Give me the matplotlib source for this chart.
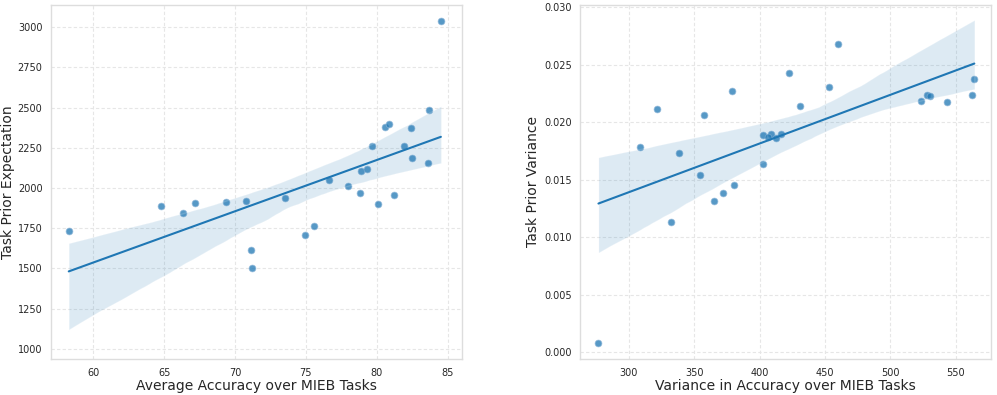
import numpy as np
import matplotlib
matplotlib.use("Agg")
import matplotlib.pyplot as plt
import seaborn as sns

# ---------------------------------------------------------
# data
# ---------------------------------------------------------

avg_accuracy = [
    84.53, 83.69, 80.56, 80.87, 82.44, 79.65, 81.93, 82.46, 83.59,
    78.90, 79.32, 76.60, 77.96, 78.85, 81.20, 73.55, 80.12, 70.75,
    69.35, 67.18, 64.79, 66.34, 58.27, 75.61, 74.96, 71.11, 71.18,
]
prior_expectation = [
    3037, 2488, 2378, 2401, 2374, 2260, 2260, 2185, 2157,
    2103, 2117, 2053, 2010, 1966, 1958, 1939, 1900, 1918,
    1912, 1908, 1890, 1842, 1732, 1763, 1711, 1612, 1504,
]

var_accuracy = [
    460.0, 422.8, 379.0, 452.8, 321.5, 430.8, 357.5, 564.1, 562.3,
    523.6, 527.7, 530.5, 543.1, 309.0, 338.2, 402.8, 408.8, 406.2,
    412.8, 416.2, 402.8, 354.3, 380.8, 371.8, 365.1, 332.3, 276.9,
]
prior_variance = [
    0.02677, 0.02427, 0.02267, 0.02305, 0.02110, 0.02139, 0.02061, 0.02372, 0.02235,
    0.02186, 0.02238, 0.02227, 0.02177, 0.01788, 0.01732, 0.01889, 0.01901, 0.01872,
    0.01866, 0.01898, 0.01633, 0.01543, 0.01450, 0.01383, 0.01311, 0.01134, 0.00081,
]

# ---------------------------------------------------------
# style
# ---------------------------------------------------------

sns.set_style("whitegrid", {
    "grid.linestyle": (0, (3, 2)),
    "grid.color": "#e6e6e6",
    "axes.edgecolor": "#dddddd",
})
plt.rcParams["font.family"] = ["DejaVu Sans"]

fig = plt.figure(figsize=(9.97, 3.95), dpi=100)
ax1 = fig.add_axes([0.0509, 0.0904, 0.4122, 0.8977])
ax2 = fig.add_axes([0.5820, 0.0904, 0.4122, 0.8977])

scatter_kws = {"s": 24, "alpha": 0.75, "edgecolor": "#8fb6d8", "linewidths": 0.6}
line_kws = {"linewidth": 1.5}

sns.regplot(x=avg_accuracy, y=prior_expectation, ax=ax1, color="#1f77b4",
            scatter_kws=scatter_kws, line_kws=line_kws, seed=0)
sns.regplot(x=var_accuracy, y=prior_variance, ax=ax2, color="#1f77b4",
            scatter_kws=scatter_kws, line_kws=line_kws, seed=0)

ax1.set_xlim(57, 86)
ax1.set_ylim(935, 3140)
ax1.set_xticks([60, 65, 70, 75, 80, 85])
ax1.set_yticks([1000, 1250, 1500, 1750, 2000, 2250, 2500, 2750, 3000])

ax2.set_xlim(263, 577)
ax2.set_ylim(-0.0006, 0.0302)
ax2.set_xticks([300, 350, 400, 450, 500, 550])
ax2.set_yticks([0.0, 0.005, 0.010, 0.015, 0.020, 0.025, 0.030])
ax2.yaxis.set_major_formatter(plt.FormatStrFormatter("%.3f"))

ax1.set_xlabel("Average Accuracy over MIEB Tasks", fontsize=10, labelpad=1)
ax1.set_ylabel("Task Prior Expectation", fontsize=10, labelpad=1.5)
ax2.set_xlabel("Variance in Accuracy over MIEB Tasks", fontsize=10, labelpad=1)
ax2.set_ylabel("Task Prior Variance", fontsize=10, labelpad=3)

for ax in (ax1, ax2):
    ax.tick_params(labelsize=7, colors="#262626", pad=2.5)
    for s in ax.spines.values():
        s.set_linewidth(1.0)

fig.savefig("out.png", dpi=100)
